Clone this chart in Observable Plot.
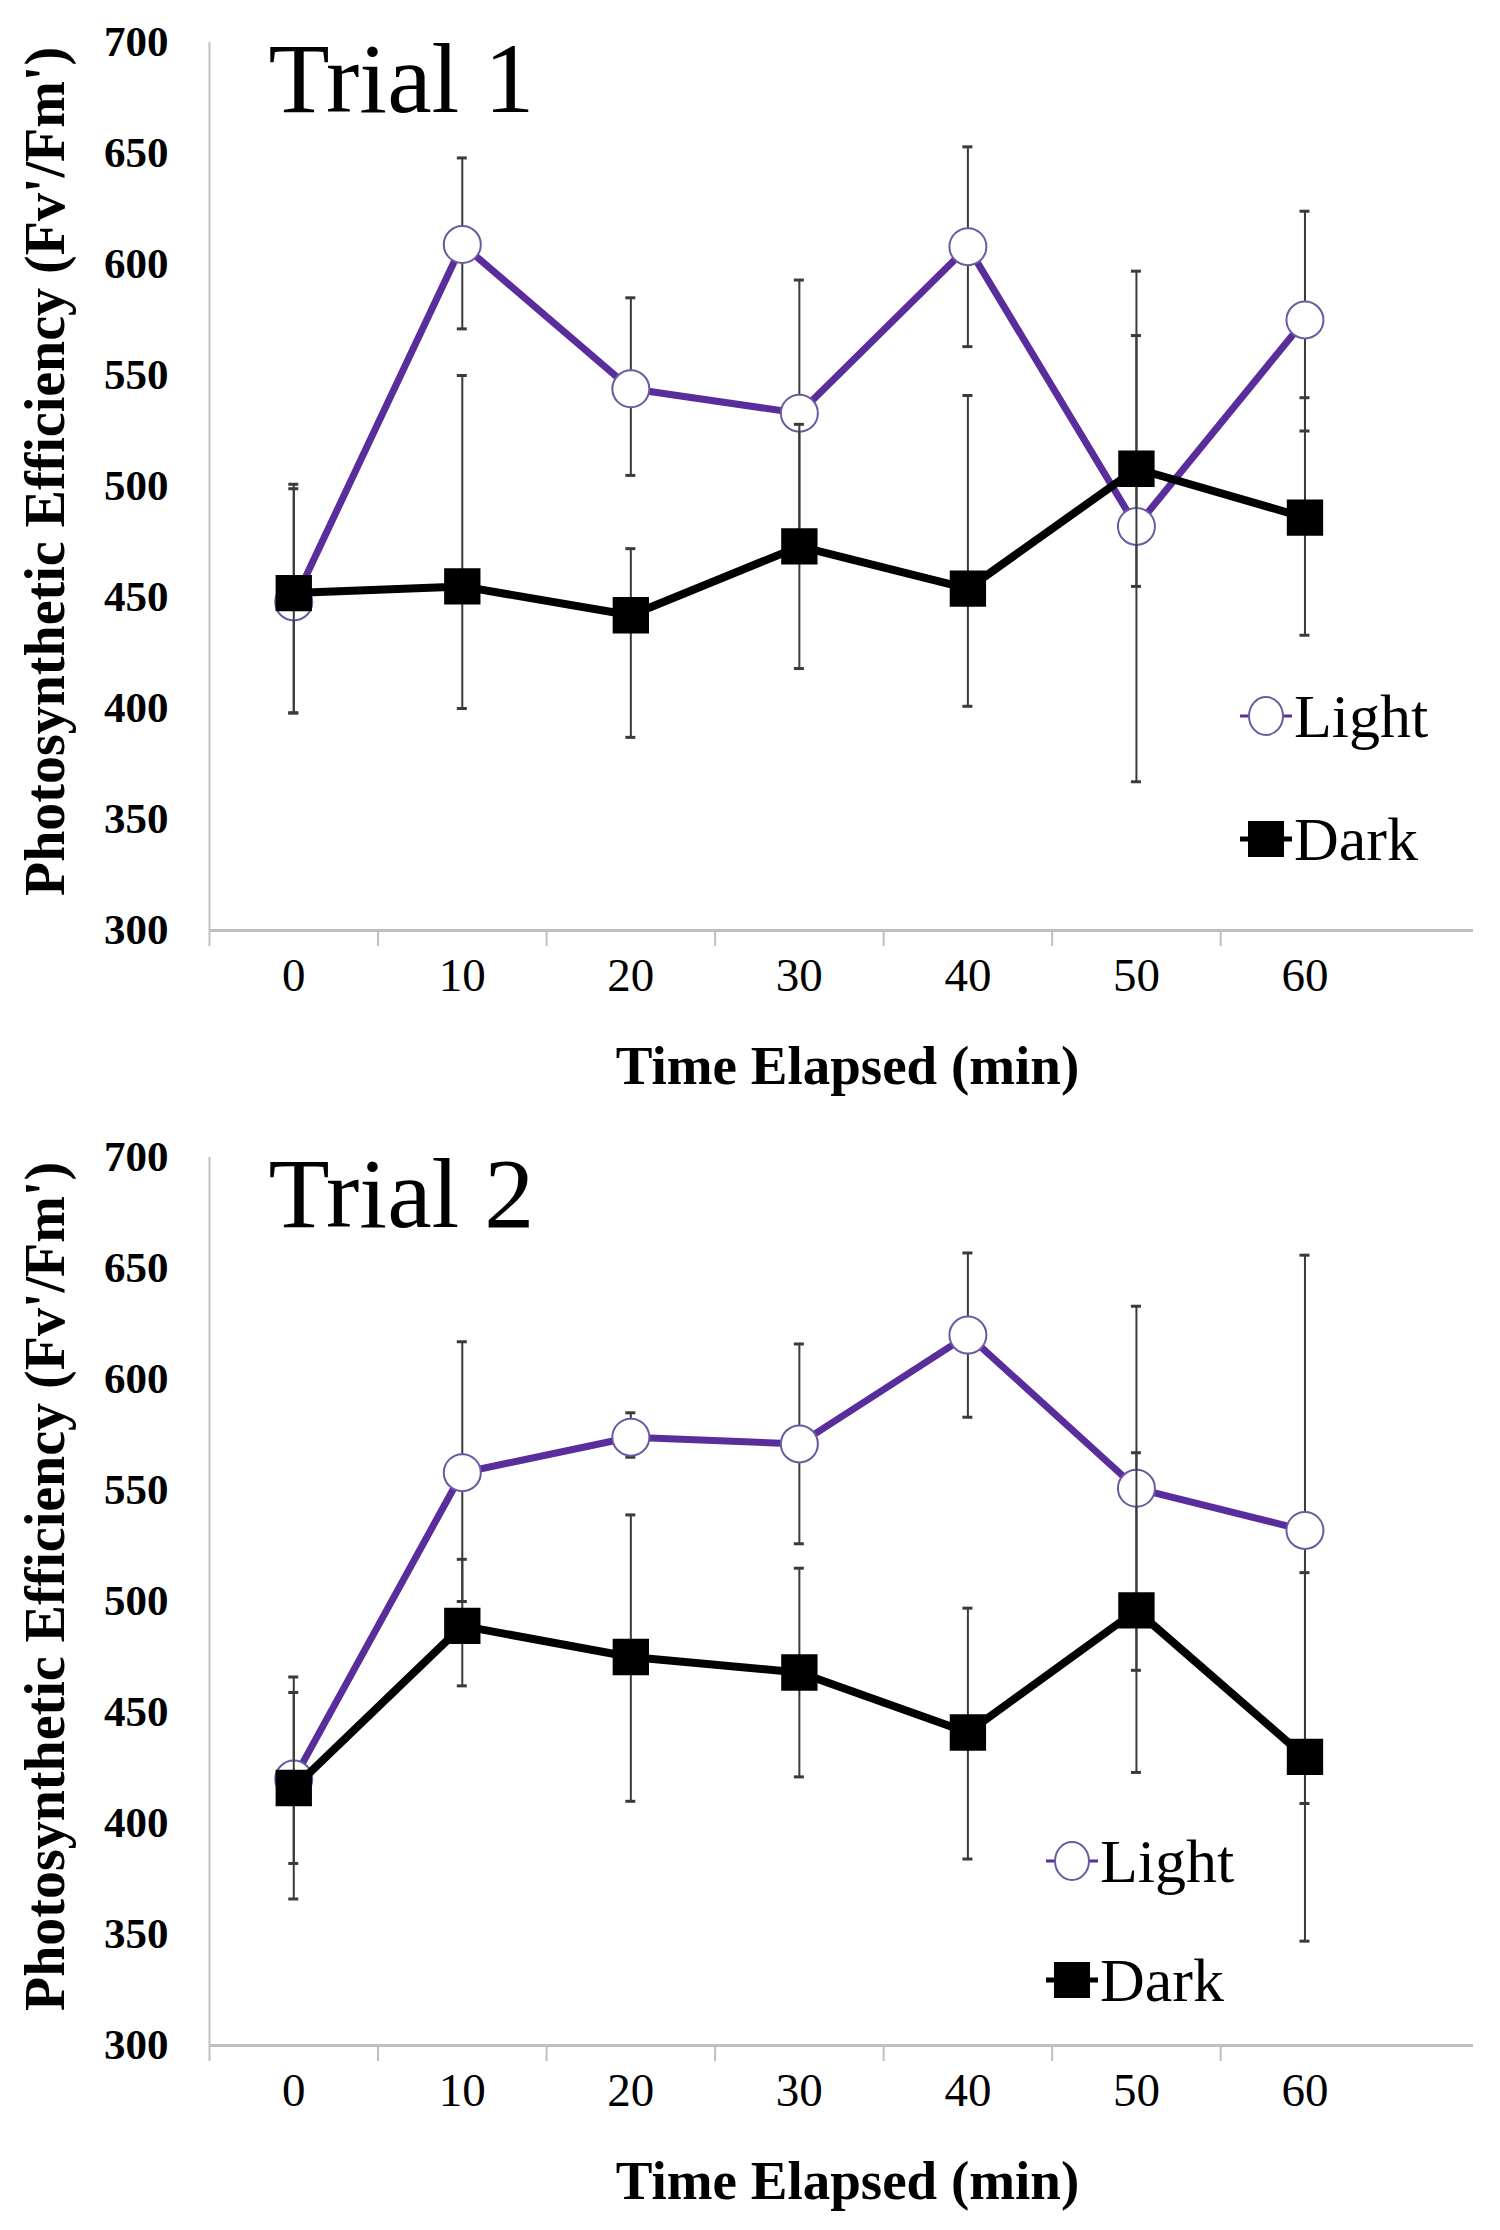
<!DOCTYPE html>
<html>
<head>
<meta charset="utf-8">
<script src="https://cdn.jsdelivr.net/npm/d3@7"></script>
<script src="https://cdn.jsdelivr.net/npm/@observablehq/plot@0.6"></script>
<style>
  html, body { margin: 0; padding: 0; background: #fff; }
  body { width: 1500px; font-family: "Liberation Serif", "Times New Roman", serif; }
  .panel { position: relative; width: 1500px; height: 1115px; }
  .legend-item { position: absolute; display: flex; align-items: center; font-size: 62px; color: #000; }
  .legend-item svg { display: block; }
</style>
</head>
<body>
<div id="p1" class="panel"></div>
<div id="p2" class="panel"></div>
<script>
// ---- data ----
const times = [0, 10, 20, 30, 40, 50, 60];
const timeEdges = [-5, 5, 15, 25, 35, 45, 55];
const yTicks = [300, 350, 400, 450, 500, 550, 600, 650, 700];
const seriesNames = ["Light", "Dark"];
const titles = ["Trial 1", "Trial 2"];
const yLabel = "Photosynthetic Efficiency (Fv'/Fm')";
const xLabel = "Time Elapsed (min)";

// Trial 1
const trial1Light     = [448, 609, 544, 533, 608, 482, 575];
const trial1LightLow  = [398, 571, 505, 473, 563, 367, 525];
const trial1LightHigh = [501, 648, 585, 593, 653, 568, 624];
const trial1Dark      = [452, 455, 442, 473, 454, 508, 486];
const trial1DarkLow   = [398, 400, 387, 418, 401, 455, 433];
const trial1DarkHigh  = [499, 550, 472, 528, 541, 597, 540];

// Trial 2
const trial2Light     = [420, 558, 574, 571, 620, 551, 532];
const trial2LightLow  = [382, 500, 565, 526, 583, 469, 409];
const trial2LightHigh = [459, 617, 585, 616, 657, 633, 656];
const trial2Dark      = [416, 489, 475, 468, 441, 496, 430];
const trial2DarkLow   = [366, 462, 410, 421, 384, 423, 347];
const trial2DarkHigh  = [466, 519, 539, 515, 497, 567, 513];

const purple = "#5a2d9c";
const circleStroke = "#6b5aa0";
const axisGray = "#bfbfbf";
const barColor = "#3a3a3a";

function rows(v, lo, hi) {
  return times.map((t, i) => ({t, v: v[i], lo: lo[i], hi: hi[i]}));
}

function errorMarks(data) {
  return [
    Plot.ruleX(data, {x: "t", y1: "lo", y2: "hi", stroke: barColor, strokeWidth: 2}),
    Plot.ruleY(data, {y: "lo", x1: "t", x2: "t", insetLeft: -5, insetRight: -5, stroke: barColor, strokeWidth: 3}),
    Plot.ruleY(data, {y: "hi", x1: "t", x2: "t", insetLeft: -5, insetRight: -5, stroke: barColor, strokeWidth: 3})
  ];
}

function chart(title, L, D) {
  return Plot.plot({
    width: 1500,
    height: 1115,
    marginLeft: 209,
    marginRight: 27,
    marginTop: 42,
    marginBottom: 185,
    x: {type: "linear", domain: [-5, 70]},
    y: {domain: [300, 700]},
    style: {fontFamily: "'Liberation Serif', 'Times New Roman', serif", background: "white", color: "black"},
    marks: [
      Plot.axisY({ticks: yTicks, tickSize: 0, tickPadding: 41, fontSize: 43, fontWeight: "bold", label: null, tickFormat: d => String(d)}),
      Plot.axisX({ticks: times, tickSize: 0, tickPadding: 27, fontSize: 47, label: null, tickFormat: d => String(d)}),
      Plot.axisX({ticks: timeEdges, tickSize: 16, stroke: axisGray, strokeWidth: 2, tickFormat: () => "", label: null}),
      Plot.ruleX([-5], {stroke: axisGray, strokeWidth: 2}),
      Plot.ruleY([300], {stroke: axisGray, strokeWidth: 3}),
      Plot.text([title], {text: d => d, frameAnchor: "top-left", dx: 59, dy: -2, fontSize: 100, letterSpacing: "-2px", textAnchor: "start", lineAnchor: "top"}),
      Plot.text([yLabel], {text: d => d, frameAnchor: "left", dx: -163, dy: -15, rotate: -90, textAnchor: "middle", lineAnchor: "middle", fontSize: 56, fontWeight: "bold"}),
      Plot.text([xLabel], {text: d => d, frameAnchor: "bottom", dx: 6, dy: 136, textAnchor: "middle", lineAnchor: "middle", fontSize: 55, fontWeight: "bold"}),
      ...errorMarks(L),
      Plot.line(L, {x: "t", y: "v", stroke: purple, strokeWidth: 7}),
      Plot.dot(L, {x: "t", y: "v", r: 18.5, fill: "white", stroke: circleStroke, strokeWidth: 2}),
      ...errorMarks(D),
      Plot.line(D, {x: "t", y: "v", stroke: "black", strokeWidth: 8}),
      Plot.dot(D, {x: "t", y: "v", symbol: "square", r: 20.5, fill: "black"})
    ]
  });
}

function legend(panel, x, yLight, yDark) {
  const items = [
    {name: seriesNames[0], y: yLight, svg:
      `<svg width="56" height="44" viewBox="-28 -22 56 44"><line x1="-26" x2="26" y1="0" y2="0" stroke="${purple}" stroke-width="3"/><ellipse cx="0" cy="0" rx="17" ry="19" fill="white" stroke="${circleStroke}" stroke-width="2"/></svg>`},
    {name: seriesNames[1], y: yDark, svg:
      `<svg width="56" height="44" viewBox="-28 -22 56 44"><line x1="-26" x2="26" y1="0" y2="0" stroke="black" stroke-width="5"/><rect x="-18" y="-18" width="36" height="36" fill="black"/></svg>`}
  ];
  for (const it of items) {
    const div = document.createElement("div");
    div.className = "legend-item";
    div.style.left = (x - 28) + "px";
    div.style.top = (it.y - 36) + "px";
    div.style.height = "72px";
    div.innerHTML = it.svg + `<span style="line-height:72px;">${it.name}</span>`;
    panel.appendChild(div);
  }
}

const p1 = document.getElementById("p1");
p1.appendChild(chart(titles[0], rows(trial1Light, trial1LightLow, trial1LightHigh), rows(trial1Dark, trial1DarkLow, trial1DarkHigh)));
legend(p1, 1266, 716, 839);

const p2 = document.getElementById("p2");
p2.appendChild(chart(titles[1], rows(trial2Light, trial2LightLow, trial2LightHigh), rows(trial2Dark, trial2DarkLow, trial2DarkHigh)));
legend(p2, 1072, 746, 865);
</script>
</body>
</html>
